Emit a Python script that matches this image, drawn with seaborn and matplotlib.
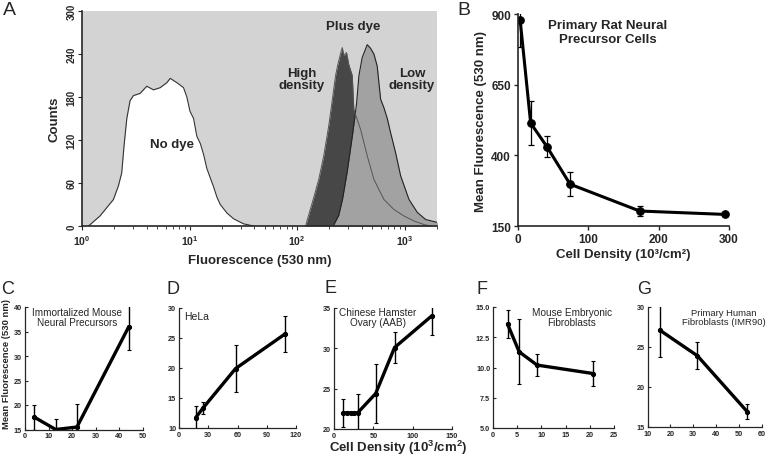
import numpy as np
import matplotlib
matplotlib.use('Agg')
import matplotlib.pyplot as plt
import seaborn as sns

sns.set_style('ticks')
plt.rcParams['font.family'] = ['Liberation Sans', 'DejaVu Sans']
plt.rcParams['mathtext.default'] = 'regular'

# panel A: flow cytometry histograms (fluorescence, counts)
nodye_fl = [1.15, 1.47, 1.96, 2.18, 2.34, 2.46, 2.61, 2.80, 3.01, 3.47, 4.00, 4.62, 5.33,
            6.15, 6.61, 7.62, 8.79, 9.44, 10.1, 10.9, 11.7, 12.6, 13.5, 14.5, 16.7, 18.0,
            19.3, 22.3, 25.7, 31.8, 39.5]
nodye_counts = [0, 14, 37, 56, 74, 112, 150, 175, 182, 185, 195, 190, 193,
                200, 206, 200, 193, 180, 160, 150, 125, 115, 100, 80, 55, 40,
                30, 18, 10, 3, 0]

high_fl = [120, 128, 143, 159, 177, 197, 212, 228, 239, 253, 263, 272, 288, 303, 326,
           337, 350, 389, 449, 518, 642, 796, 986, 1222, 1514, 1747]
high_counts = [0, 15, 40, 65, 98, 140, 175, 210, 225, 240, 249, 238, 242, 225, 210,
               163, 155, 135, 98, 65, 37, 23, 14, 7, 2, 0]

low_fl = [220, 244, 265, 292, 326, 357, 376, 403, 449, 482, 518, 556, 598, 642, 690,
          741, 825, 918, 1098, 1312, 1570, 2015]
low_counts = [2, 15, 38, 75, 125, 170, 210, 235, 253, 248, 240, 223, 177, 165, 150,
              130, 102, 70, 37, 19, 9, 5]

# panel B
b_density = [3, 18, 41, 74, 173, 294]
b_fluor = [880, 514, 431, 298, 203, 191]
b_err = [98, 78, 36, 43, 16, 5]

# panels C-G
c_density = [4, 13, 22, 44]
c_fluor = [17.5, 15.0, 15.5, 36.0]
c_err = [2.5, 2.2, 4.7, 4.8]

d_density = [17, 25, 58, 109]
d_fluor = [11.7, 13.4, 19.9, 25.7]
d_err = [1.9, 1.0, 3.9, 3.0]

e_density = [12, 16, 21, 26, 30, 53, 77, 124]
e_fluor = [22.0, 22.0, 22.0, 22.0, 22.0, 24.4, 30.1, 34.0]
e_err = [1.7, 0, 0, 0, 2.3, 3.7, 1.9, 2.3]

f_density = [3.0, 5.4, 9.1, 20.7]
f_fluor = [13.6, 11.3, 10.2, 9.5]
f_err = [1.15, 2.7, 0.9, 1.0]

g_density = [15.4, 31.8, 53.6]
g_fluor = [27.1, 23.9, 16.9]
g_err = [3.3, 1.7, 0.95]

W, H = 767, 464
fig = plt.figure(figsize=(W / 100, H / 100), dpi=100)


def box(l, t, r, b):
    return [l / W, 1 - b / H, (r - l) / W, (b - t) / H]


def px(x, y):
    return x / W, 1 - y / H


# ---- A ----
ax = fig.add_axes(box(82, 12, 437, 227))
ax.set_facecolor('#d3d3d3')
ax.fill_between(nodye_fl, nodye_counts, color='white', lw=0)
sns.lineplot(x=nodye_fl, y=nodye_counts, ax=ax, color='#333333', lw=0.8)
ax.fill_between(high_fl, high_counts, color='#474747', lw=0)
ax.fill_between(low_fl, low_counts, color='#a2a2a2', lw=0)
sns.lineplot(x=low_fl, y=low_counts, ax=ax, color='#222222', lw=0.8)
sns.lineplot(x=high_fl, y=high_counts, ax=ax, color='#555555', lw=0.7)
ax.set_xscale('log')
ax.set_xlim(1, 2000)
ax.set_ylim(0, 300)
ax.set_yticks(range(0, 301, 60))
for s in ['top', 'right']:
    ax.spines[s].set_visible(False)
ax.spines['left'].set_linewidth(1.2)
ax.spines['bottom'].set_linewidth(1.2)
ax.tick_params(axis='y', labelsize=7, length=3, width=0.8, pad=1)
ax.tick_params(axis='x', which='major', labelsize=7.5, length=3, width=0.8, pad=2)
ax.tick_params(axis='x', which='minor', length=2, width=0.6)
for t in ax.get_yticklabels():
    t.set_rotation(90)
    t.set_va('center')
    t.set_fontweight('bold')
for t in ax.get_xticklabels():
    t.set_fontweight('bold')
ax.set_ylabel('Counts', fontsize=9.5, fontweight='bold', labelpad=4)
ax.set_xlabel('Fluorescence (530 nm)', fontsize=9.5, fontweight='bold', labelpad=5)
ax.text(0.2545, 0.38, 'No dye', transform=ax.transAxes, ha='center', va='center',
        fontsize=9.5, fontweight='bold')
fig.text(*px(302, 80), 'High\ndensity', ha='center', va='center', fontsize=9.5,
         fontweight='bold', linespacing=1.1)
fig.text(*px(353, 27), 'Plus dye', ha='center', va='center', fontsize=9.5, fontweight='bold')
fig.text(*px(412, 80), 'Low\ndensity', ha='center', va='center', fontsize=9.5,
         fontweight='bold', linespacing=1.1)

# ---- B ----
ax = fig.add_axes(box(518, 15, 729, 227))
ax.errorbar(b_density, b_fluor, yerr=b_err, fmt='none', ecolor='black', elinewidth=0.9,
            capsize=2, capthick=0.9)
sns.lineplot(x=b_density, y=b_fluor, ax=ax, color='black', lw=2.2, marker='o', ms=5.5,
             mec='black', mfc='black')
ax.set_xlim(0, 300)
ax.set_ylim(150, 900)
ax.set_xticks([0, 100, 200, 300])
ax.set_yticks([150, 400, 650, 900])
sns.despine(ax=ax)
ax.spines['left'].set_linewidth(1.2)
ax.spines['bottom'].set_linewidth(1.2)
ax.tick_params(labelsize=8.5, length=3, width=1, pad=2)
for t in ax.get_xticklabels() + ax.get_yticklabels():
    t.set_fontweight('bold')
ax.set_ylabel('Mean Fluorescence (530 nm)', fontsize=9.5, fontweight='bold', labelpad=3)
ax.set_xlabel('Cell Density (10³/cm²)', fontsize=9.5, fontweight='bold', labelpad=2)
fig.text(*px(608, 33), 'Primary Rat Neural\nPrecursor Cells', ha='center', va='center',
         fontsize=9.5, fontweight='bold', linespacing=1.15)

# ---- C-G ----
small = [
    (box(25, 308, 143, 430.5), c_density, c_fluor, c_err, (0, 50), (15, 40),
     range(0, 51, 10), range(15, 41, 5), 'Immortalized Mouse\nNeural Precursors', (77, 318), 'center', 7.2),
    (box(179, 309, 296, 429), d_density, d_fluor, d_err, (0, 120), (10, 30),
     range(0, 121, 30), range(10, 31, 5), 'HeLa', (184, 312), 'left', 7.5),
    (box(334, 309, 452, 430), e_density, e_fluor, e_err, (0, 150), (20, 35),
     range(0, 151, 50), range(20, 36, 5), 'Chinese Hamster\nOvary (AAB)', (378, 318), 'center', 7.2),
    (box(493, 308, 614, 429), f_density, f_fluor, f_err, (0, 25), (5, 15),
     range(0, 26, 5), [5, 7.5, 10, 12.5, 15], 'Mouse Embryonic\nFibroblasts', (572, 318), 'center', 7.2),
    (box(647.5, 308, 762, 428), g_density, g_fluor, g_err, (10, 60), (15, 30),
     range(10, 61, 10), range(15, 31, 5), 'Primary Human\nFibroblasts (IMR90)', (724, 318), 'center', 6.8),
]
for rect, xs, ys, es, xl, yl, xt, yt, label, pos, ha, fs in small:
    ax = fig.add_axes(rect)
    ax.errorbar(xs, ys, yerr=es, fmt='none', ecolor='black', elinewidth=1.0,
                capsize=1.2, capthick=0.8)
    sns.lineplot(x=xs, y=ys, ax=ax, color='black', lw=2.4, marker='o', ms=3,
                 mec='black', mfc='black')
    ax.set_xlim(*xl)
    ax.set_ylim(*yl)
    ax.set_xticks(list(xt))
    ax.set_yticks(list(yt))
    sns.despine(ax=ax)
    ax.spines['left'].set_linewidth(0.9)
    ax.spines['bottom'].set_linewidth(0.9)
    ax.tick_params(labelsize=5.2, length=2.5, width=0.8, direction='in', pad=2)
    for t in ax.get_xticklabels() + ax.get_yticklabels():
        t.set_fontweight('bold')
    fig.text(*px(*pos), label, ha=ha, va='top' if ha == 'left' else 'center',
             fontsize=fs, linespacing=1.1)

# shared labels for the bottom row
fig.text(*px(6.5, 364), 'Mean Fluorescence (530 nm)', rotation=90, ha='center', va='center',
         fontsize=6.8, fontweight='bold')
fig.text(*px(398, 448), 'Cell Density (10$^3$/cm$^2$)', ha='center', va='center',
         fontsize=9.5, fontweight='bold')

# panel letters
for letter, (x, y), size in [('A', (3, 2), 14), ('B', (457, 2), 14), ('C', (1, 281), 13),
                             ('D', (167, 281), 13), ('E', (325, 280), 13),
                             ('F', (477, 281), 13), ('G', (637, 281), 13)]:
    fig.text(*px(x, y), letter, ha='left', va='top', fontsize=size)

fig.savefig('out.png', dpi=100)
